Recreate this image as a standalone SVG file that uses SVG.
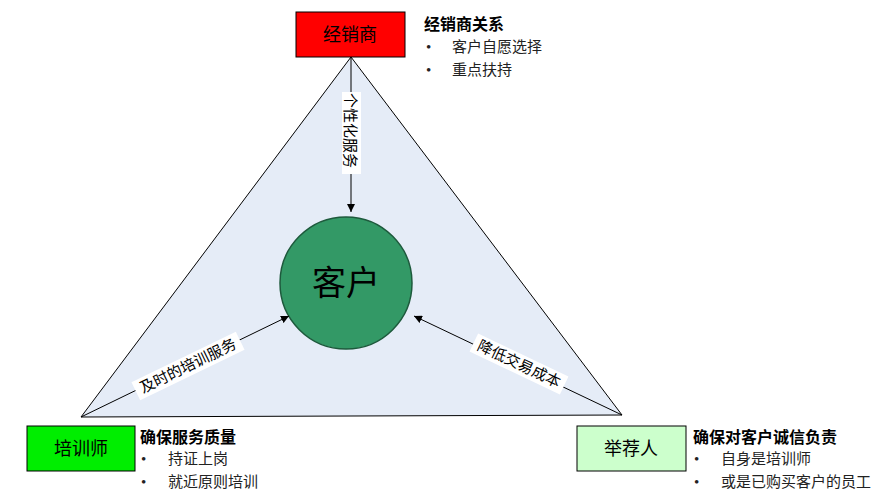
<svg xmlns="http://www.w3.org/2000/svg" width="895" height="504" viewBox="0 0 895 504">
<style>
text{font-family:"Liberation Serif","Noto Sans CJK SC",serif;fill:#000}
.box{stroke:#000;stroke-width:1}
.bt{font-size:18px;text-anchor:middle}
.h{font-size:16px;font-weight:bold;font-family:"Noto Sans CJK SC",sans-serif}
.li{font-size:15px;fill:#222}
.lab{font-size:15px;fill:#000}
.c{stroke:#000;stroke-width:1;fill:none;marker-end:url(#a)}
</style>
<defs><marker id="a" viewBox="0 0 10 10" refX="10" refY="5" markerWidth="8" markerHeight="8" orient="auto" markerUnits="userSpaceOnUse"><path d="M0,0L10,5L0,10Z" fill="#000"/></marker></defs>
<rect width="895" height="504" fill="#fff"/>
<g id="triangle"><polygon points="351,57 81,417 622,415" fill="#e5ecf7" stroke="#000" stroke-width="1"/></g>
<g id="customer"><circle cx="346" cy="283" r="66" fill="#339966" stroke="#1d5a3c" stroke-width="1.5"/><text x="346" y="295" font-size="34" text-anchor="middle">客户</text></g>
<g id="connectors">
<line class="c" x1="351" y1="57" x2="351" y2="212"/>
<line class="c" x1="81" y1="417" x2="289" y2="316"/>
<line class="c" x1="622" y1="415" x2="414" y2="316"/>
<rect x="342" y="92" width="19" height="82" fill="#fff"/>
<text class="lab" transform="translate(345,93) rotate(90)">个性化服务</text>
<g transform="translate(188,366) rotate(-25.9)"><rect x="-58" y="-10" width="116" height="20" fill="#fff"/><text class="lab" text-anchor="middle" y="5">及时的培训服务</text></g>
<g transform="translate(519,364) rotate(25.4)"><rect x="-50" y="-10" width="100" height="20" fill="#fff"/><text class="lab" text-anchor="middle" y="5">降低交易成本</text></g>
</g>
<g id="dealer"><rect class="box" x="296" y="12" width="109" height="45" fill="#ff0000"/><text class="bt" x="350" y="41" fill="#222">经销商</text>
<text class="h" x="424" y="30">经销商关系</text>
<text class="li" x="426" y="52">•</text><text class="li" x="452" y="52">客户自愿选择</text>
<text class="li" x="426" y="75">•</text><text class="li" x="452" y="75">重点扶持</text></g>
<g id="trainer"><rect class="box" x="27" y="426" width="108" height="45" fill="#00ee00"/><text class="bt" x="81" y="455" fill="#222">培训师</text>
<text class="h" x="140" y="443">确保服务质量</text>
<text class="li" x="141" y="464">•</text><text class="li" x="168" y="464">持证上岗</text>
<text class="li" x="141" y="487">•</text><text class="li" x="168" y="487">就近原则培训</text></g>
<g id="referrer"><rect class="box" x="577" y="426" width="109" height="45" fill="#ccffcc"/><text class="bt" x="631" y="455" fill="#222">举荐人</text>
<text class="h" x="693" y="443">确保对客户诚信负责</text>
<text class="li" x="694" y="464">•</text><text class="li" x="721" y="464">自身是培训师</text>
<text class="li" x="694" y="487">•</text><text class="li" x="721" y="487">或是已购买客户的员工</text></g>
</svg>
